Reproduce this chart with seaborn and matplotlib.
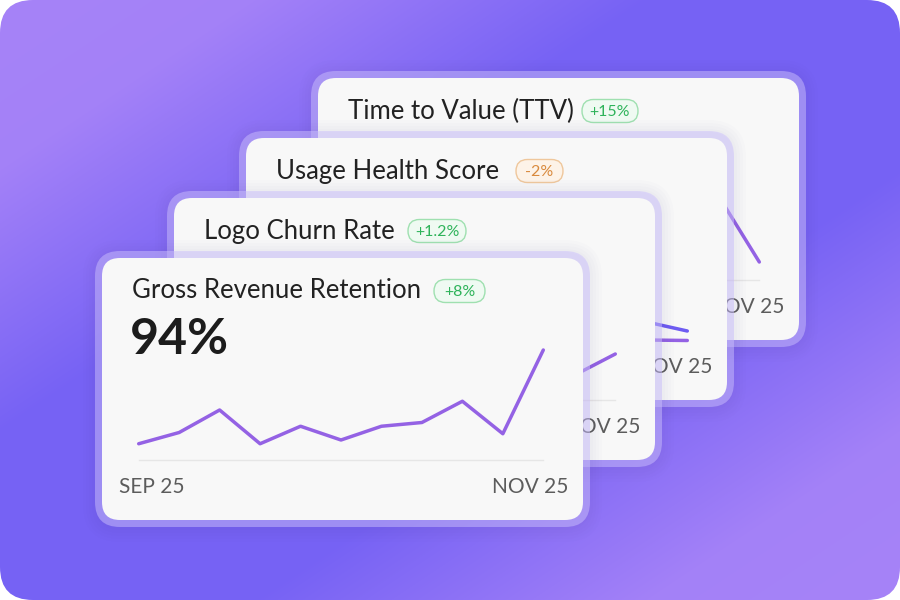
import numpy as np
import matplotlib
matplotlib.use("Agg")
import matplotlib.pyplot as plt
import seaborn as sns
from matplotlib.patches import FancyBboxPatch

sns.set_theme(style="white")
plt.rcParams["font.family"] = ["Lato", "DejaVu Sans"]

# weekly points, sep 25 -> nov 25
weeks = list(range(11))
tick_labels = ["SEP 25", "NOV 25"]

# card data (front card first)
titles = ["Gross Revenue Retention", "Logo Churn Rate", "Usage Health Score", "Time to Value (TTV)"]
badges = ["+8%", "+1.2%", "-2%", "+15%"]
headline = "94%"

grr = [86.3, 87.2, 89.0, 86.3, 87.7, 86.6, 87.7, 88.0, 89.7, 87.1, 93.8]
logo_churn = [1.6, 1.4, 1.9, 1.5, 1.7, 1.3, 1.5, 1.8, 1.4, 1.25, 2.3]
usage_score = [74.5, 76.0, 73.2, 75.1, 77.3, 74.0, 75.6, 73.9, 72.6, 71.8, 70.9]
usage_bench = [71.4, 70.9, 71.6, 70.7, 71.1, 70.5, 70.8, 70.3, 70.4, 70.0, 69.95]
ttv = [31.5, 29.0, 33.2, 30.4, 34.1, 28.7, 32.0, 30.9, 33.5, 26.7, 13.6]

# styling / layout (pixels, 900x600 canvas)
W, H = 900, 600
card_w, card_h = 481, 262
card_left = [102, 174, 246, 318]
card_top = [258, 198, 138, 78]
badge_x = [(434, 485), (408, 466), (516, 563), (582, 638)]
badge_green = dict(fc="#effaf2", ec="#9fe0b0", tc="#2eb35a")
badge_orange = dict(fc="#fdf3e8", ec="#efc79c", tc="#d98a3d")
ylims = [(85, 97.8), (0, 8), (70, 86), (10, 42)]
line_purple = "#9462e4"
line_blue = "#6e5cf2"

fig = plt.figure(figsize=(9, 6), dpi=100)
fig.patch.set_facecolor("white")


def layer(z):
    a = fig.add_axes([0, 0, 1, 1], zorder=z)
    a.set_xlim(0, W)
    a.set_ylim(H, 0)
    a.axis("off")
    return a


# background gradient with rounded corners
bg = layer(0)
yy, xx = np.mgrid[0:H, 0:W]
s = xx + 1.5 * yy
w = np.interp(s, [0, 250, 650, 1150, 1550, 1800], [1, 0.95, 0, 0, 0.95, 1])[..., None]
light = np.array([166, 131, 248]) / 255
dark = np.array([118, 98, 244]) / 255
img = w * light + (1 - w) * dark
im = bg.imshow(img, extent=(0, W, H, 0), aspect="auto", interpolation="bilinear")
frame = FancyBboxPatch((0, 0), W, H, boxstyle="round,pad=0,rounding_size=33",
                       transform=bg.transData, fc="none", ec="none")
bg.add_patch(frame)
im.set_clip_path(frame)

series = [[grr], [logo_churn], [usage_score, usage_bench], [ttv]]
colors = [[line_purple], [line_purple], [line_blue, line_purple], [line_purple]]

# draw back to front
for i in [3, 2, 1, 0]:
    z = 10 * (4 - i)
    ax = layer(z)
    L, T = card_left[i], card_top[i]

    # soft shadow
    for k in range(5):
        ax.add_patch(FancyBboxPatch((L - 7 - 3 * k, T - 6 - 3 * k), card_w + 14 + 6 * k,
                                    card_h + 16 + 6 * k,
                                    boxstyle=f"round,pad=0,rounding_size={25 + 3 * k}",
                                    fc="#3a2d80", ec="none", alpha=0.01))
    # translucent border + card
    ax.add_patch(FancyBboxPatch((L - 7, T - 7), card_w + 14, card_h + 14,
                                boxstyle="round,pad=0,rounding_size=25",
                                fc="#cbbffd", ec="none", alpha=0.5))
    ax.add_patch(FancyBboxPatch((L, T), card_w, card_h,
                                boxstyle="round,pad=0,rounding_size=18",
                                fc="#f8f8f8", ec="none"))

    # title + badge
    ty = T + 33
    ax.text(L + 30, ty, titles[i], fontsize=18.5, color="#222222", va="center", ha="left")
    bs = badge_orange if badges[i].startswith("-") else badge_green
    bx0, bx1 = badge_x[i]
    ax.add_patch(FancyBboxPatch((bx0, ty - 11.5), bx1 - bx0, 23,
                                boxstyle="round,pad=0,rounding_size=11.5",
                                fc=bs["fc"], ec=bs["ec"], lw=1))
    ax.text((bx0 + bx1) / 2, ty + 0.5, badges[i], fontsize=11.5, color=bs["tc"],
            ha="center", va="center")
    if i == 0:
        ax.text(L + 28, T + 82, headline, fontsize=36, fontweight="bold",
                color="#1c1c1c", ha="left", va="center")

    # tick labels (left label of the back cards is fully covered, so only the front one)
    if i == 0:
        ax.text(L + 17, T + 229, tick_labels[0], fontsize=15, color="#5c5c5c", ha="left", va="center")
    ax.text(L + 466, T + 229, tick_labels[1], fontsize=15, color="#5c5c5c", ha="right", va="center")

    # line chart
    x0, x1 = 138.7 + 72 * i, 543.3 + 72 * i
    yb, yt = T + 202, T + 42
    cax = fig.add_axes([x0 / W, 1 - yb / H, (x1 - x0) / W, (yb - yt) / H], zorder=z + 5)
    cax.patch.set_alpha(0)
    for vals, c in zip(series[i], colors[i]):
        sns.lineplot(x=weeks, y=vals, ax=cax, color=c, linewidth=2.5,
                     solid_capstyle="round", solid_joinstyle="round", clip_on=False)
    cax.set_xlim(weeks[0], weeks[-1])
    cax.set_ylim(*ylims[i])
    cax.set_xticks([])
    cax.set_yticks([])
    cax.set_xlabel("")
    cax.set_ylabel("")
    for side in ["top", "left", "right"]:
        cax.spines[side].set_visible(False)
    cax.spines["bottom"].set_color("#e6e6e6")
    cax.spines["bottom"].set_linewidth(1)
    cax.spines["bottom"].set_zorder(0)

fig.savefig("out.png", dpi=100)
